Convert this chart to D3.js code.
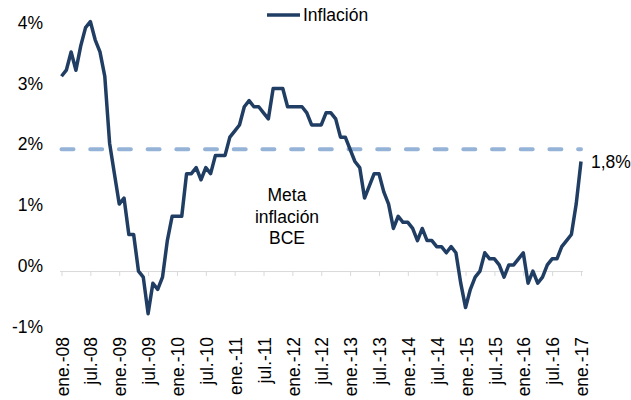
<!DOCTYPE html>
<html>
<head>
<meta charset="utf-8">
<script src="https://cdn.jsdelivr.net/npm/d3@7"></script>
<style>
  body { margin: 0; background: #fff; }
  svg { display: block; font-family: Arial, "Liberation Sans", sans-serif; }
</style>
</head>
<body>
<svg id="chart" width="631" height="400"></svg>
<script>
// ─── Data ─────────────────────────────────────────────────────────────────────

// Inflación interanual zona euro, mensual ene.-08 .. ene.-17 (%)
const inflacion = [
  3.2, 3.3, 3.6, 3.3, 3.7, 4.0, 4.1, 3.8, 3.6, 3.2, 2.1, 1.6,      // 2008
  1.1, 1.2, 0.6, 0.6, 0.0, -0.1, -0.7, -0.2, -0.3, -0.1, 0.5, 0.9, // 2009
  0.9, 0.9, 1.6, 1.6, 1.7, 1.5, 1.7, 1.6, 1.9, 1.9, 1.9, 2.2,      // 2010
  2.3, 2.4, 2.7, 2.8, 2.7, 2.7, 2.6, 2.5, 3.0, 3.0, 3.0, 2.7,      // 2011
  2.7, 2.7, 2.7, 2.6, 2.4, 2.4, 2.4, 2.6, 2.6, 2.5, 2.2, 2.2,      // 2012
  2.0, 1.8, 1.7, 1.2, 1.4, 1.6, 1.6, 1.3, 1.1, 0.7, 0.9, 0.8,      // 2013
  0.8, 0.7, 0.5, 0.7, 0.5, 0.5, 0.4, 0.4, 0.3, 0.4, 0.3, -0.2,     // 2014
  -0.6, -0.3, -0.1, 0.0, 0.3, 0.2, 0.2, 0.1, -0.1, 0.1, 0.1, 0.2,  // 2015
  0.3, -0.2, 0.0, -0.2, -0.1, 0.1, 0.2, 0.2, 0.4, 0.5, 0.6, 1.1,   // 2016
  1.8                                                               // 2017
];

const metaBCE = 2.0;

const tickLabels = [
  "ene.-08", "jul.-08", "ene.-09", "jul.-09", "ene.-10", "jul.-10",
  "ene.-11", "jul.-11", "ene.-12", "jul.-12", "ene.-13", "jul.-13",
  "ene.-14", "jul.-14", "ene.-15", "jul.-15", "ene.-16", "jul.-16", "ene.-17"
];

const yTicks = [-1, 0, 1, 2, 3, 4];

// months as categories
const meses = d3.utcMonth.range(new Date(Date.UTC(2008, 0, 1)), new Date(Date.UTC(2017, 1, 1)));
const series = meses.map((m, i) => ({ mes: m, valor: inflacion[i] }));

// ─── Chart ────────────────────────────────────────────────────────────────────

const svg = d3.select("#chart");
const fontSize = "17.5px";
const textColor = "#000";

const x = d3.scalePoint()
  .domain(d3.range(meses.length))
  .range([61.5, 581]);

const y = d3.scaleLinear()
  .domain([-1, 4])
  .range([331.9, 27.6]);

// Y labels (Excel draws them a few px above the value)
svg.append("g")
  .selectAll("text")
  .data(yTicks)
  .join("text")
  .attr("x", 43)
  .attr("y", d => y(d) - 5)
  .attr("dy", "0.35em")
  .attr("text-anchor", "end")
  .attr("font-size", fontSize)
  .attr("fill", textColor)
  .text(d => d + "%");

// X axis line at 0%
const xAxis = d3.axisBottom(x)
  .tickValues(d3.range(0, meses.length, 6))
  .tickSize(5)
  .tickSizeOuter(0)
  .tickFormat("");

const gx = svg.append("g")
  .attr("transform", `translate(0,${y(0)})`)
  .call(xAxis);
gx.select(".domain")
  .attr("d", `M60,0.5H583`)
  .attr("stroke", "#d9d9d9");
gx.selectAll(".tick line").attr("stroke", "#d9d9d9");

// X labels, rotated, below the plot area
svg.append("g")
  .selectAll("text")
  .data(tickLabels)
  .join("text")
  .attr("transform", (d, i) => `translate(${x(i * 6) + 1},337) rotate(-90)`)
  .attr("dy", "0.35em")
  .attr("text-anchor", "end")
  .attr("font-size", fontSize)
  .attr("fill", textColor)
  .text(d => d);

// Meta BCE dashed line
svg.append("path")
  .datum(series)
  .attr("fill", "none")
  .attr("stroke", "#95b3d7")
  .attr("stroke-width", 4)
  .attr("stroke-linecap", "round")
  .attr("stroke-dasharray", "12,16.7")
  .attr("d", d3.line().x((d, i) => x(i)).y(() => y(metaBCE)));

// Inflation line
svg.append("path")
  .datum(series)
  .attr("fill", "none")
  .attr("stroke", "#203d63")
  .attr("stroke-width", 3.5)
  .attr("stroke-linejoin", "round")
  .attr("d", d3.line().x((d, i) => x(i)).y(d => y(d.valor)));

// Last value label
const last = series[series.length - 1];
svg.append("text")
  .attr("x", x(series.length - 1) + 10)
  .attr("y", y(last.valor))
  .attr("dy", "0.35em")
  .attr("font-size", fontSize)
  .attr("fill", textColor)
  .text(d3.format(".1f")(last.valor).replace(".", ",") + "%");

// Annotation
svg.append("text")
  .attr("x", 287)
  .attr("y", 201)
  .attr("text-anchor", "middle")
  .attr("font-size", fontSize)
  .attr("fill", textColor)
  .selectAll("tspan")
  .data(["Meta", "inflación", "BCE"])
  .join("tspan")
  .attr("x", 287)
  .attr("dy", (d, i) => i === 0 ? 0 : 21.5)
  .text(d => d);

// Legend
svg.append("line")
  .attr("x1", 267).attr("x2", 300)
  .attr("y1", 15).attr("y2", 15)
  .attr("stroke", "#203d63")
  .attr("stroke-width", 3.5);

svg.append("text")
  .attr("x", 303)
  .attr("y", 15)
  .attr("dy", "0.35em")
  .attr("font-size", fontSize)
  .attr("fill", textColor)
  .text("Inflación");
</script>
</body>
</html>
